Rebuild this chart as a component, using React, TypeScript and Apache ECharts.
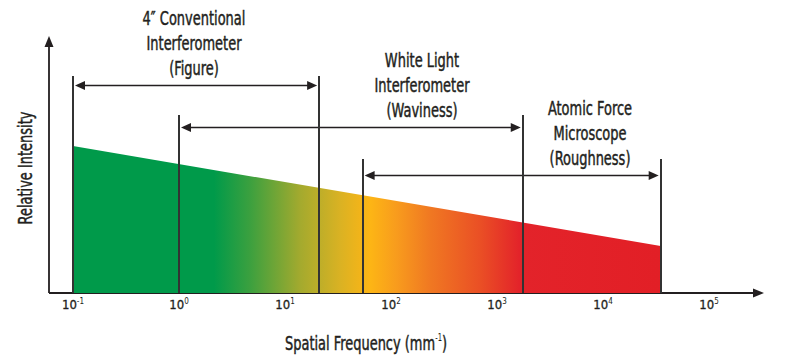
import React, { useEffect, useRef } from "react";
import * as echarts from "echarts";

// ---- data ----
const instrumentNames = [
  "4″ Conventional\nInterferometer\n(Figure)",
  "White Light\nInterferometer\n(Waviness)",
  "Atomic Force\nMicroscope\n(Roughness)",
];
const rangeStart = [0.1, 1, 54]; // mm^-1
const rangeEnd = [21, 1750, 35000]; // mm^-1
const arrowLevel = [80.9, 64.6, 45.9];
const bracketTop = [84.4, 69.3, 52.1];
const intensityX = [0.1, 35000];
const intensityY = [57.2, 18.3];
const tickExponents = [-1, 0, 1, 2, 3, 4, 5];

// ---- layout ----
const W = 793;
const H = 359;
const FONT = "'DejaVu Sans Condensed', 'DejaVu Sans', sans-serif";
const INK = "#231f20";
const labelPos = [
  [194, 43],
  [422, 85],
  [590, 133],
];

export default function App() {
  const ref = useRef<HTMLDivElement>(null);
  useEffect(() => {
    document.body.style.margin = "0";
    const chart = echarts.init(ref.current!, undefined, { renderer: "svg" });
    const gradient = new echarts.graphic.LinearGradient(0, 0, 1, 0, [
      { offset: 0, color: "#009a4a" },
      { offset: 0.24, color: "#009a4a" },
      { offset: 0.3, color: "#3aa03f" },
      { offset: 0.387, color: "#a4aa2e" },
      { offset: 0.455, color: "#dab223" },
      { offset: 0.506, color: "#fdb515" },
      { offset: 0.55, color: "#f89c1d" },
      { offset: 0.608, color: "#f07822" },
      { offset: 0.693, color: "#ea4f25" },
      { offset: 0.76, color: "#e3232a" },
      { offset: 1, color: "#e21f26" },
    ]);

    const verticals: any[] = [];
    for (let i = 0; i < rangeStart.length; i++) {
      verticals.push([{ coord: [rangeStart[i], 0] }, { coord: [rangeStart[i], bracketTop[i]] }]);
      verticals.push([{ coord: [rangeEnd[i], 0] }, { coord: [rangeEnd[i], bracketTop[i]] }]);
    }
    const arrowData = rangeStart.map((s, i) => [s, rangeEnd[i], arrowLevel[i]]);

    const textStyle = {
      x: 0,
      y: 0,
      align: "center",
      verticalAlign: "middle",
      fontFamily: FONT,
      fontSize: 19,
      fill: INK,
      stroke: INK,
      lineWidth: 0.45,
    };

    const texts: any[] = instrumentNames.map((t, i) => ({
      type: "text",
      x: labelPos[i][0],
      y: labelPos[i][1],
      scaleX: 0.76,
      silent: true,
      style: { ...textStyle, text: t, lineHeight: 25 },
    }));

    chart.setOption({
      animation: false,
      grid: { left: 73, right: W - 709, top: 36, bottom: H - 293 },
      xAxis: {
        type: "log",
        logBase: 10,
        min: Math.pow(10, tickExponents[0]),
        max: Math.pow(10, tickExponents[tickExponents.length - 1]),
        axisLine: { show: false },
        axisTick: { show: false },
        splitLine: { show: false },
        axisLabel: {
          margin: 4,
          formatter: (v: number) => `{b|10}{s|${Math.round(Math.log10(v))}}`,
          rich: {
            b: { fontFamily: FONT, fontSize: 13, color: INK, verticalAlign: "bottom", lineHeight: 14, textBorderColor: INK, textBorderWidth: 0.3 },
            s: { fontFamily: FONT, fontSize: 8, color: INK, verticalAlign: "top", lineHeight: 14 },
          },
        },
      },
      yAxis: { type: "value", min: 0, max: 100, show: false },
      series: [
        {
          type: "line",
          data: intensityX.map((x, i) => [x, intensityY[i]]),
          symbol: "none",
          lineStyle: { width: 0 },
          areaStyle: { color: gradient, opacity: 1 },
          silent: true,
          markLine: {
            silent: true,
            symbol: ["none", "none"],
            label: { show: false },
            lineStyle: { color: "#333", width: 2, type: "solid" },
            data: verticals,
          },
          z: 2,
        },
        {
          type: "custom",
          silent: true,
          z: 3,
          data: arrowData,
          renderItem: (_params: any, api: any) => {
            const a = api.coord([api.value(0), api.value(2)]);
            const b = api.coord([api.value(1), api.value(2)]);
            const y = Math.round(a[1]) + 0.5;
            const x1 = a[0] + 2;
            const x2 = b[0] - 2;
            const L = 10;
            const hw = 4.5;
            return {
              type: "group",
              children: [
                { type: "line", shape: { x1: x1 + L - 1, y1: y, x2: x2 - L + 1, y2: y }, style: { stroke: INK, lineWidth: 1.6 } },
                { type: "polygon", shape: { points: [[x1, y], [x1 + L, y - hw], [x1 + L, y + hw]] }, style: { fill: INK } },
                { type: "polygon", shape: { points: [[x2, y], [x2 - L, y - hw], [x2 - L, y + hw]] }, style: { fill: INK } },
              ],
            };
          },
        },
      ],
      graphic: [
        { type: "line", silent: true, shape: { x1: 49, y1: 293, x2: 756, y2: 293 }, style: { stroke: INK, lineWidth: 1.8 } },
        { type: "polygon", silent: true, shape: { points: [[753, 288.5], [764, 293], [753, 297.5]] }, style: { fill: INK } },
        { type: "line", silent: true, shape: { x1: 49, y1: 293, x2: 49, y2: 44 }, style: { stroke: INK, lineWidth: 1.8 } },
        { type: "polygon", silent: true, shape: { points: [[44.5, 47], [49, 36], [53.5, 47]] }, style: { fill: INK } },
        ...texts,
        {
          type: "text",
          x: 25,
          y: 168,
          rotation: Math.PI / 2,
          scaleX: 0.76,
          silent: true,
          style: { ...textStyle, text: "Relative Intensity" },
        },
        {
          type: "text",
          x: 366,
          y: 343,
          scaleX: 0.76,
          silent: true,
          style: {
            text: "{n|Spatial Frequency (mm}{s|-1}{n|)}",
            x: 0,
            y: 0,
            align: "center",
            verticalAlign: "middle",
            rich: {
              n: { fontFamily: FONT, fontSize: 19, fill: INK, stroke: INK, lineWidth: 0.45, verticalAlign: "bottom", lineHeight: 20 },
              s: { fontFamily: FONT, fontSize: 10, fill: INK, verticalAlign: "top", lineHeight: 20 },
            },
          },
        },
      ],
    });
    return () => chart.dispose();
  }, []);
  return <div ref={ref} style={{ width: W, height: H, position: "absolute", left: 0, top: 0 }} />;
}
